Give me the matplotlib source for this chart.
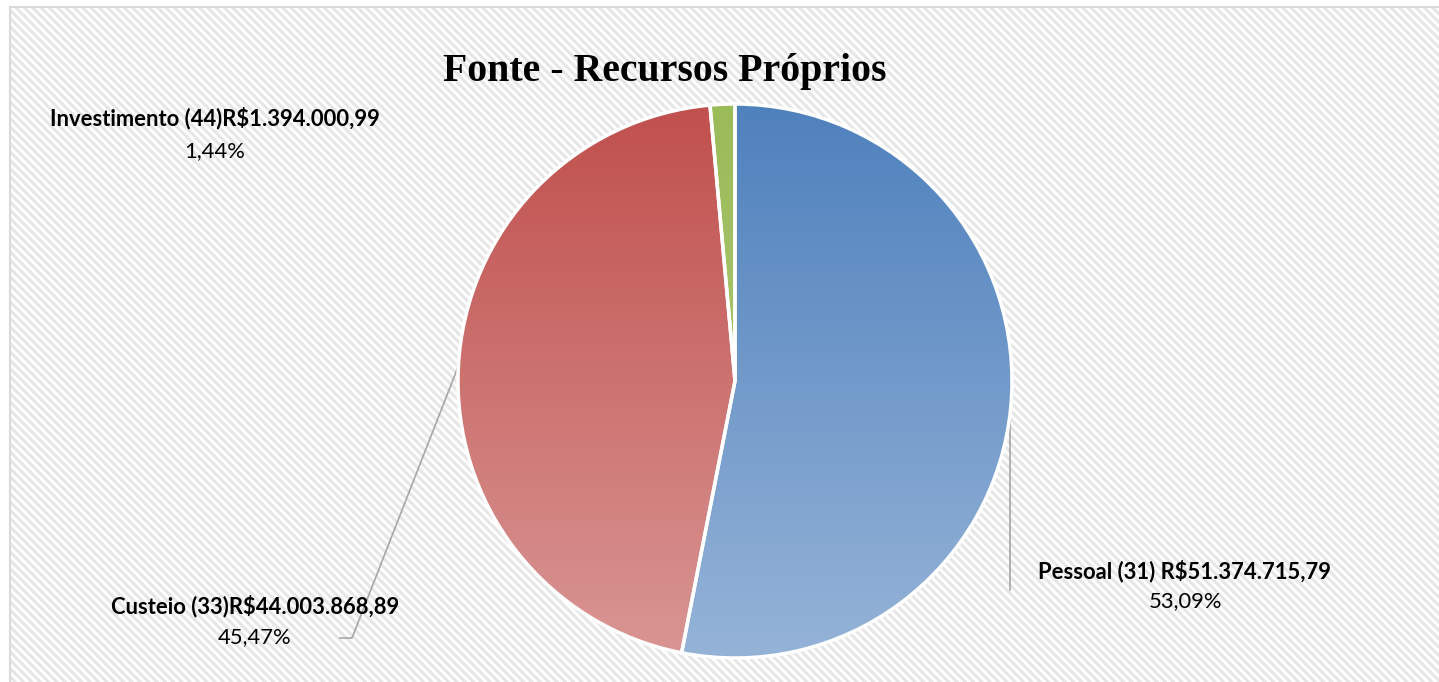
import numpy as np
import matplotlib.pyplot as plt
from matplotlib.patches import Rectangle
from matplotlib.colors import LinearSegmentedColormap

plt.rcParams['hatch.linewidth'] = 2.2

# dados do grafico
categorias = ['Pessoal (31)', 'Custeio (33)', 'Investimento (44)']
valores = [51374715.79, 44003868.89, 1394000.99]
rotulos = ['Pessoal (31) R$51.374.715,79',
           'Custeio (33)R$44.003.868,89',
           'Investimento (44)R$1.394.000,99']
percentuais = ['53,09%', '45,47%', '1,44%']
cor_topo = ['#4f81bd', '#c0504d', '#9bbb59']
cor_base = ['#95b3d7', '#d99694', '#b3cc80']

W, H = 1439, 682
fig = plt.figure(figsize=(W/100, H/100), dpi=100)
ax = fig.add_axes([0, 0, 1, 1])

# fundo listrado + borda
fundo = Rectangle((10, 0), W - 10, H - 7, facecolor='white',
                  edgecolor='#e6e6e6', hatch='\\\\\\\\', linewidth=0, zorder=0)
ax.add_patch(fundo)
ax.plot([10, 10], [0, H - 7], color='#d9d9d9', lw=1.5, zorder=1)
ax.plot([10, W], [H - 7, H - 7], color='#d9d9d9', lw=1.5, zorder=1)

# pizza
cx, cy, r = 735, H - 381, 277
wedges, _ = ax.pie(valores, startangle=90, counterclock=False,
                   center=(cx, cy), radius=r,
                   wedgeprops=dict(facecolor='none', edgecolor='white',
                                   linewidth=2.5, zorder=4))

grad = np.linspace(0, 1, 256).reshape(-1, 1)
for i, w in enumerate(wedges):
    cmap = LinearSegmentedColormap.from_list('g%d' % i, [cor_topo[i], cor_base[i]])
    im = ax.imshow(grad, extent=(cx - r, cx + r, cy - r, cy + r), cmap=cmap,
                   origin='upper', aspect='auto', zorder=3)
    im.set_clip_path(w)

# linhas de chamada
ax.plot([458, 352, 340], [H - 367, H - 638, H - 638], color='#a6a6a6', lw=1.2, zorder=2)
ax.plot([1010, 1010], [H - 408, H - 590], color='#a6a6a6', lw=1.2, zorder=2)

# rotulos
pos = [(1185, 571, 601), (255, 606, 637), (215, 118, 151)]
for i in range(3):
    x, y1, y2 = pos[i]
    ax.text(x, H - y1, rotulos[i], ha='center', va='center', fontsize=15.8,
            fontweight='bold', family='Lato', zorder=5)
    ax.text(x, H - y2, percentuais[i], ha='center', va='center', fontsize=15.8,
            family='Lato', zorder=5)

ax.text(665, H - 71, 'Fonte - Recursos Próprios', ha='center', va='center',
        fontsize=28.6, fontweight='bold', family='Liberation Serif', zorder=5)

ax.set_xlim(0, W)
ax.set_ylim(0, H)
ax.set_aspect('auto')
ax.axis('off')

fig.savefig('out.png', dpi=100)
